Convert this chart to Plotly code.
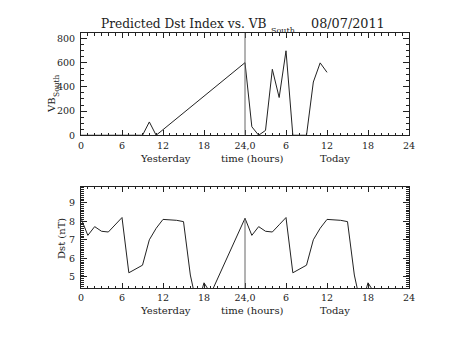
import plotly.graph_objects as go

# Hourly VB_south (yesterday 0-23, today 24-47); hours 12-23 yesterday are missing
vb_hours = [0, 1, 2, 3, 4, 5, 6, 7, 8, 9, 10, 11,
            24, 25, 26, 27, 28, 29, 30, 31, 32, 33, 34, 35, 36]
vb_values = [0, 0, 0, 0, 0, 0, 0, 0, 0, 0, 110, 0,
             600, 70, 0, 40, 545, 312, 698, 0, 0, 0, 440, 598, 520]

# Hourly predicted Dst; hours 20-23 of each day are missing
dst_hours = list(range(0, 20)) + list(range(24, 44))
dst_day = [8.16, 7.24, 7.71, 7.46, 7.42, 7.81, 8.2, 5.22, 5.42, 5.63,
           7.0, 7.62, 8.1, 8.09, 8.05, 7.98, 5.1, 3.4, 4.68, 4.1]
dst_values = dst_day + dst_day

tick_vals = [0, 6, 12, 18, 24, 30, 36, 42, 48]
tick_text = ["0", "6", "12", "18", "24,0", "6", "12", "18", "24"]

W, H = 453, 340
ML, MR, MT, MB = 81, 44, 33, 52
PW, PH = W - ML - MR, H - MT - MB


def px(x):
    return (x - ML) / PW


def py(y):
    return (H - MB - y) / PH


FONT = "DejaVu Serif"
INK = "#222222"
TICKFONT = dict(family=FONT, size=9.5, color=INK)

fig = go.Figure()
fig.add_trace(go.Scatter(x=vb_hours, y=vb_values, mode="lines",
                         line=dict(color=INK, width=1), xaxis="x", yaxis="y",
                         showlegend=False))
fig.add_trace(go.Scatter(x=dst_hours, y=dst_values, mode="lines",
                         line=dict(color=INK, width=1), xaxis="x2", yaxis="y2",
                         showlegend=False))

xcommon = dict(range=[0, 48], tickvals=tick_vals, ticktext=tick_text,
               ticks="inside", ticklen=5, tickcolor=INK, showline=True,
               linecolor=INK, linewidth=1, mirror="ticks", showgrid=False,
               zeroline=False, ticklabelstandoff=1, tickfont=TICKFONT,
               minor=dict(dtick=1, ticks="inside", ticklen=2.5,
                          tickcolor=INK, showgrid=False))

fig.update_layout(
    width=W, height=H, margin=dict(l=ML, r=MR, t=MT, b=MB),
    paper_bgcolor="white", plot_bgcolor="white",
    xaxis=dict(domain=[0, 1], anchor="y", **xcommon),
    xaxis2=dict(domain=[0, 1], anchor="y2", **xcommon),
    yaxis=dict(domain=[0.599, 1], anchor="x", range=[0, 845],
               tickvals=[0, 200, 400, 600, 800], ticks="inside", ticklen=6,
               tickcolor=INK, showline=True, linecolor=INK, linewidth=1,
               mirror="ticks", showgrid=False, zeroline=False,
               ticklabelstandoff=3, tickfont=TICKFONT,
               minor=dict(dtick=50, ticks="inside", ticklen=3,
                          tickcolor=INK, showgrid=False)),
    yaxis2=dict(domain=[0, 0.397], anchor="x2", range=[4.4, 9.86],
                tickvals=[5, 6, 7, 8, 9], ticks="inside", ticklen=6,
                tickcolor=INK, showline=True, linecolor=INK, linewidth=1,
                mirror="ticks", showgrid=False, zeroline=False,
                ticklabelstandoff=3, tickfont=TICKFONT,
                minor=dict(dtick=0.1, ticks="inside", ticklen=3,
                           tickcolor=INK, showgrid=False)),
)

# Day boundary markers at hour 24
fig.add_shape(type="line", xref="x", yref="y domain", x0=24, x1=24, y0=0, y1=1,
              line=dict(color="#666666", width=1))
fig.add_shape(type="line", xref="x2", yref="y2", x0=24, x1=24, y0=4.4,
              y1=dst_values[dst_hours.index(24)],
              line=dict(color="#666666", width=1))

ann = []


def label(text, x, y, size=10, xanchor="center", angle=0, xref="paper"):
    ann.append(dict(text=text, x=x, y=y, xref=xref, yref="paper",
                    xanchor=xanchor, yanchor="middle", showarrow=False,
                    textangle=angle,
                    font=dict(family=FONT, size=size, color=INK)))


# Title with subscripted VB
label("Predicted Dst Index vs. VB", px(268), py(24), size=12.2, xanchor="right")
label("South", px(269), py(30.5), size=8, xanchor="left")
label("08/07/2011", px(309), py(24), size=12.8, xanchor="left")

# Day / time captions under both panels
for yc in (158, 310.7):
    label("Yesterday", 12.4, py(yc), xref="x")
    label("time (hours)", 25.1, py(yc), xref="x")
    label("Today", 37.1, py(yc), xref="x")

# Y axis titles
label("VB", px(51), py(105), angle=-90)
label("South", px(56), py(86), size=7.5, angle=-90)
label("Dst (nT)", px(61.7), py(238.3), angle=-90)

fig.update_layout(annotations=ann)
fig.write_html("out.html")
